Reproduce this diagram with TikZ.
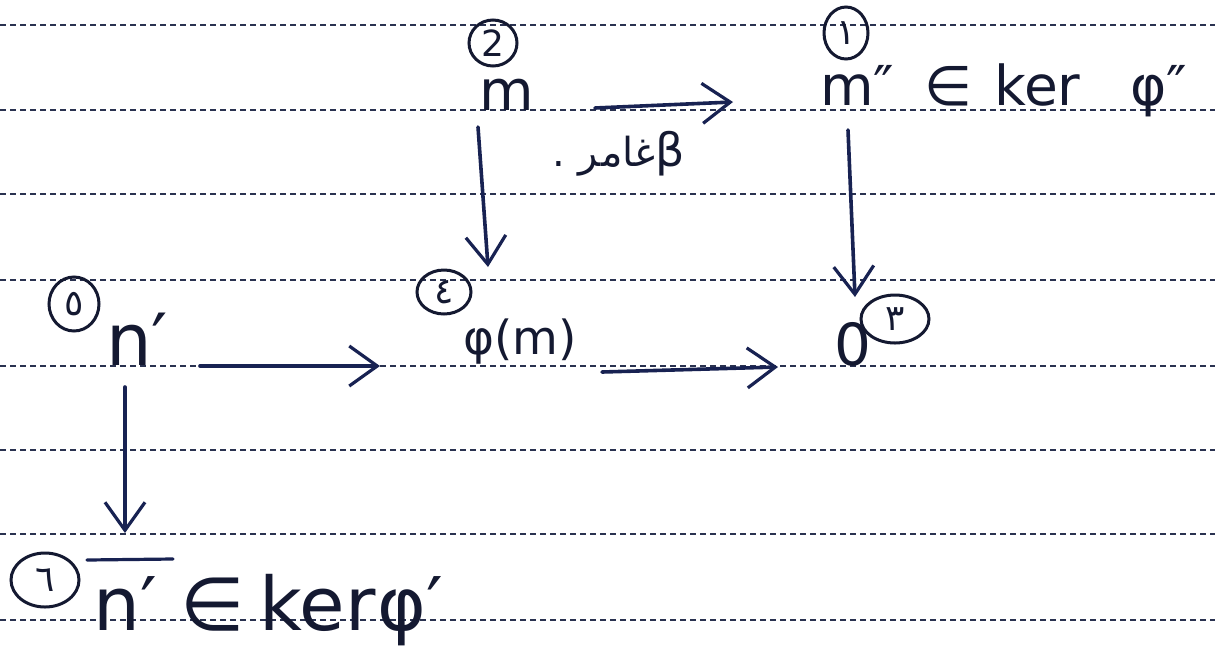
\documentclass[tikz,border=0pt]{standalone}
\usepackage{fontspec}
\setmainfont{DejaVu Sans}
\newfontfamily\arabicfont[Script=Arabic]{DejaVu Sans}
\TeXXeTstate=1
\usetikzlibrary{arrows.meta,calc,shapes.geometric}

\definecolor{ink}{HTML}{141931}
\definecolor{pen}{HTML}{182252}
\definecolor{tealpen}{HTML}{1F6266}
\definecolor{ruling}{HTML}{2A3250}

\tikzset{
  ruleline/.style={ruling, line width=2.8pt, dash pattern=on 6pt off 4pt},
  term/.style={ink, inner sep=0pt, anchor=base west},
  arr/.style={pen, line width=3.6pt, line cap=round,
    -{Straight Barb[length=28pt,width=40pt,line width=3.2pt]}},
  tag/.style={ellipse, draw=tealpen, line width=3pt, inner sep=0pt,
    ink, font=\fontsize{36}{36}\selectfont}
}

\begin{document}
\begin{tikzpicture}[x=1pt,y=-1pt]
\useasboundingbox (0,0) rectangle (1215,657);
\fill[white] (0,0) rectangle (1215,657);

% ruled paper
\foreach \yy in {25,110,194,280,366,450,534,620}
  \draw[ruleline] (0,\yy) -- (1215,\yy);

% terms
\node[term, font=\fontsize{56}{56}\selectfont] (m) at (479,110) {m};
\node[term, font=\fontsize{55}{55}\selectfont] (mpp) at (820,105)
  {m″\hspace{30pt}∈\hspace{22pt}ker\hspace{50pt}φ″};
\node[term, font=\fontsize{47}{47}\selectfont] (phim) at (463,354) {φ(m)};
\node[term, font=\fontsize{58}{58}\selectfont] (zero) at (834,365) {0};
\node[term, font=\fontsize{72}{72}\selectfont] (np) at (106,365) {n′};
\node[term, font=\fontsize{74}{74}\selectfont] (nbar) at (93,630)
  {n′\hspace{24pt}∈\hspace{14pt}ker\hspace{2pt}φ′};
\draw[pen, line width=3.2pt, line cap=round]
  ($(nbar.base west)+(-6,-70)$) -- ($(nbar.base west)+(80,-71)$);

% label of the top arrow
\node[term, font=\fontsize{40}{40}\selectfont] (lab) at (552,166)
  {.\hspace{14pt}{\arabicfont\beginR غامر\endR}{\fontsize{46}{46}\selectfont β}};

% numbering tags
\node[tag, minimum width=48pt, minimum height=46pt] (t2) at (493,43) {2};
\node[tag, minimum width=44pt, minimum height=52pt] (t1) at (846,33) {١};
\node[tag, minimum width=54pt, minimum height=44pt] (t4) at (444,292) {٤};
\node[tag, minimum width=68pt, minimum height=48pt] (t3) at (895,319) {٣};
\node[tag, minimum width=50pt, minimum height=54pt] (t5) at (74,304) {٥};
\node[tag, minimum width=68pt, minimum height=54pt] (t6) at (45,580) {٦};

% arrows
\draw[arr] ($(m.base east)+(61,-2)$) -- ($(mpp.base west)+(-87,-3)$);
\draw[arr] ($(m.base west)+(-1,17)$) -- ($(phim.base west)+(25,-87)$);
\draw[arr] ($(mpp.base west)+(28,25)$) -- ($(zero.base west)+(21,-68)$);
\draw[arr] ($(np.base west)+(94,1)$) -- ($(phim.base west)+(-83,12)$);
\draw[arr] ($(phim.base west)+(139,18)$) -- ($(zero.base west)+(-56,2)$);
\draw[arr] ($(np.base west)+(19,22)$) -- ($(nbar.base west)+(32,-97)$);
\end{tikzpicture}
\end{document}
